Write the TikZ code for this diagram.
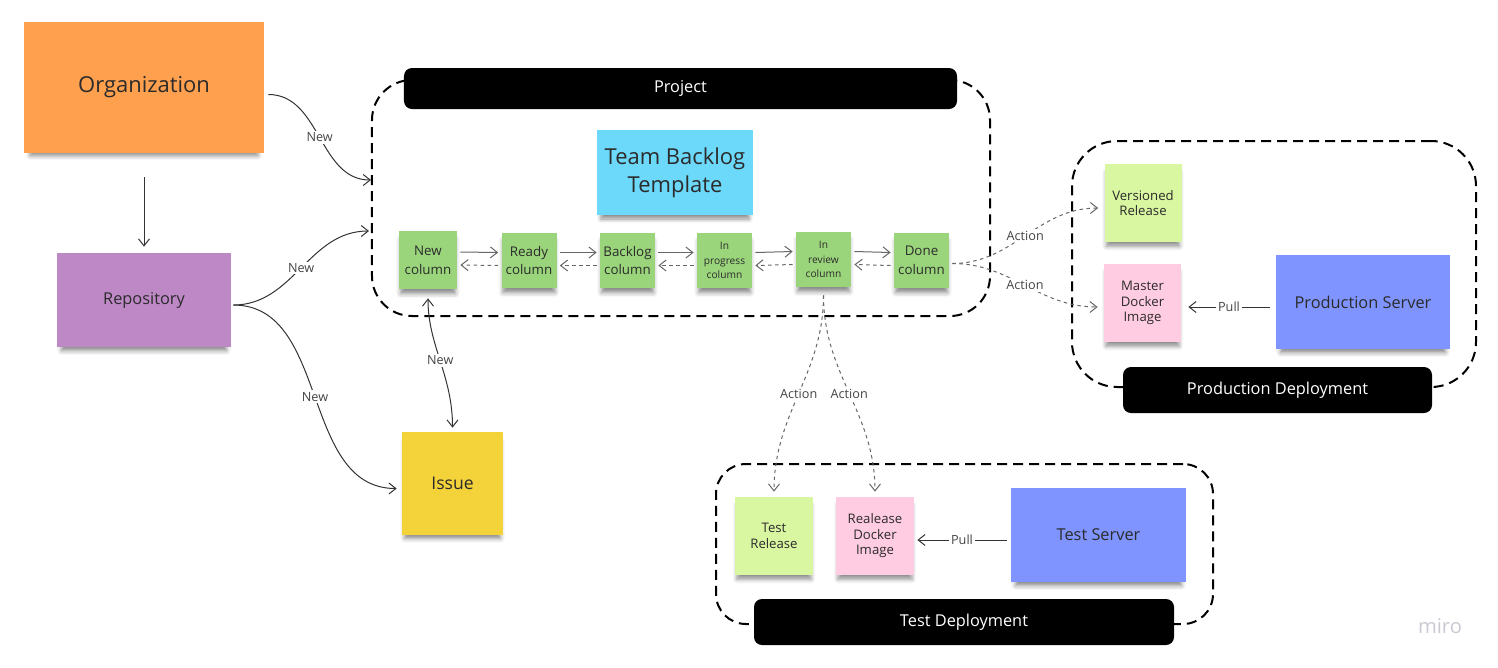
\documentclass[tikz,border=0pt]{standalone}
\usepackage{fontspec}
\setmainfont{Open Sans}
\usetikzlibrary{arrows.meta, calc, shadows.blur}
\definecolor{orgorange}{HTML}{FEA04E}
\definecolor{repopurple}{HTML}{BE88C7}
\definecolor{issueyellow}{HTML}{F4D23A}
\definecolor{tplcyan}{HTML}{6CD8FA}
\definecolor{colgreen}{HTML}{9AD57B}
\definecolor{relgreen}{HTML}{D9F6A1}
\definecolor{imgpink}{HTML}{FFCCE1}
\definecolor{srvblue}{HTML}{7F94FE}
\definecolor{stickytext}{HTML}{2B2B2B}
\definecolor{lbltext}{HTML}{444444}
\definecolor{lineblack}{HTML}{333333}
\definecolor{linegray}{HTML}{666666}
\definecolor{mirogray}{HTML}{C9C9D2}
\tikzset{%
    conn/.style={%
        ->,
        >={Straight Barb[length=1.4mm, width=2.2mm]},
        draw=lineblack, line width=0.2mm,
    },
    flow/.style={%
        conn,
        draw=linegray,
    },
    flowback/.style={%
        flow,
        dash pattern=on 0.7mm off 0.7mm,
    },
    action/.style={%
        flowback,
    },
    lbl/.style={%
        fill=white,
        inner sep=1pt,
        text=lbltext,
        font={\fontsize{7.2}{9}\selectfont},
    },
    sticky/.style={%
        rectangle,
        inner sep=0pt,
        align=center,
        text=stickytext,
        blur shadow={shadow xshift=0mm, shadow yshift=-1.3mm,
            shadow blur radius=0.9mm, shadow opacity=45, shadow scale=0.95},
    },
    bigtext/.style={font={\fontsize{12.5}{16}\selectfont}},
    midtext/.style={font={\fontsize{9.3}{12}\selectfont}},
    smalltext/.style={font={\fontsize{7.5}{8.8}\selectfont}},
    coltext/.style={font={\fontsize{7.6}{10.6}\selectfont}},
    tinytext/.style={font={\fontsize{5.8}{8.4}\selectfont}},
    colbox/.style={%
        sticky, fill=colgreen,
        minimum width=11mm, minimum height=11mm,
    },
    frame/.style={%
        rectangle,
        draw=black, line width=0.4mm,
        dash pattern=on 2mm off 1.2mm,
    },
    tag/.style={%
        rectangle,
        fill=black,
        rounded corners=1.6mm,
        text=white,
        midtext,
    },
}
\begin{document}
\begin{tikzpicture}[x=0.2mm, y=-0.2mm]
	\useasboundingbox (0,0) rectangle (1498,667);

	% dashed groups
	\node [frame, minimum width=123.6mm, minimum height=47.2mm, rounded corners=8mm] (projframe) at (681,198) {};
	\node [frame, minimum width=80.8mm, minimum height=49.2mm, rounded corners=9mm] (prodframe) at (1274,264) {};
	\node [frame, minimum width=99.4mm, minimum height=32mm, rounded corners=6mm] (testframe) at (964.5,544) {};

	\node [tag, minimum width=110.6mm, minimum height=8.2mm] (projtag) at (680.5,88.5) {Project};
	\node [tag, minimum width=61.8mm, minimum height=9.2mm] (prodtag) at (1277.5,390) {Production Deployment};
	\node [tag, minimum width=84mm, minimum height=9.2mm] (testtag) at (964,622) {Test Deployment};

	% stickies
	\node [sticky, bigtext, fill=orgorange, minimum width=48mm, minimum height=26.2mm] (org) at (144,87.5) {Organization};
	\node [sticky, midtext, fill=repopurple, minimum width=34.8mm, minimum height=18.8mm] (repo) at (144,300) {Repository};
	\node [sticky, fill=issueyellow, minimum width=20.2mm, minimum height=20.6mm, font={\fontsize{10}{12}\selectfont}] (issue) at (452.5,483.5) {Issue};
	\node [sticky, bigtext, fill=tplcyan, minimum width=31.2mm, minimum height=17mm] (tpl) at (675,172.5) {Team Backlog\\Template};

	\node [colbox, coltext, minimum width=11.6mm, minimum height=11.6mm] (colnew) at (428,260) {New\\column};
	\node [colbox, coltext] (colready) at (529,260.5) {Ready\\column};
	\node [colbox, coltext] (colbacklog) at (627.5,260.5) {Backlog\\column};
	\node [colbox, tinytext] (colprog) at (724.5,260.5) {In\\progress\\column};
	\node [colbox, tinytext] (colrev) at (823.5,259.5) {In\\review\\column};
	\node [colbox, coltext] (coldone) at (921.5,260.5) {Done\\column};

	\node [sticky, smalltext, fill=relgreen, minimum width=15.4mm, minimum height=15.6mm] (verrel) at (1143,203) {Versioned\\Release};
	\node [sticky, smalltext, fill=imgpink, minimum width=15.4mm, minimum height=15.6mm] (masterimg) at (1142.5,303) {Master\\Docker\\Image};
	\node [sticky, midtext, fill=srvblue, minimum width=34.8mm, minimum height=18.8mm] (prodsrv) at (1363,302) {Production Server};

	\node [sticky, smalltext, fill=relgreen, minimum width=15.6mm, minimum height=15.6mm] (testrel) at (774,536) {Test\\Release};
	\node [sticky, smalltext, fill=imgpink, minimum width=15.6mm, minimum height=15.6mm] (relimg) at (875,536) {Realease\\Docker\\Image};
	\node [sticky, midtext, fill=srvblue, minimum width=35mm, minimum height=18.8mm] (testsrv) at (1098.5,535) {Test Server};

	\node [text=mirogray, font={\fontsize{11.5}{13}\selectfont}] (miro) at (1440,626) {miro};

	% connectors
	\draw[conn, shorten <=4.8mm, shorten >=1.2mm] (org) -- (repo);
	\draw[conn] ($(org.east)+(4,7)$) to[out=0, in=180] node[lbl] {New} ($(projframe.west)+(0,-18)$);
	\draw[conn] ($(repo.east)+(2,5)$) to[out=0, in=180] node[lbl] {New} ($(projframe.west)+(-2,33)$);
	\draw[conn] ($(repo.east)+(2,5)$) to[out=0, in=180] node[lbl] {New} ($(issue.west)+(-5,5)$);
	\draw[conn, <->, shorten <=1.8mm, shorten >=0.8mm] (colnew.south) to[out=-90, in=90] node[lbl] {New} (issue.north);

	\foreach \a/\b in {colnew/colready, colready/colbacklog, colbacklog/colprog, colprog/colrev, colrev/coldone} {
		\draw[flow] ($(\a.east)+(3,-8)$) -- ($(\b.west)+(-3,-8)$);
		\draw[flowback] ($(\b.west)+(-3,5)$) -- ($(\a.east)+(3,5)$);
	}

	\draw[action] ($(coldone.east)+(3,3)$) to[out=0, in=180] node[lbl] {Action} ($(verrel.west)+(-6,5)$);
	\draw[action] ($(coldone.east)+(3,3)$) to[out=0, in=180] node[lbl] {Action} ($(masterimg.west)+(-6,4)$);
	\draw[action] ($(colrev.south)+(0,8)$) to[out=-90, in=90] node[lbl] {Action} ($(testrel.north)+(0,-5)$);
	\draw[action] ($(colrev.south)+(0,8)$) to[out=-90, in=90] node[lbl] {Action} ($(relimg.north)+(0,-5)$);

	\draw[conn] ($(prodsrv.west)+(-6,5)$) -- node[lbl] {Pull} ($(masterimg.east)+(7,4)$);
	\draw[conn] ($(testsrv.west)+(-4,5)$) -- node[lbl] {Pull} ($(relimg.east)+(3,4)$);
\end{tikzpicture}
\end{document}
